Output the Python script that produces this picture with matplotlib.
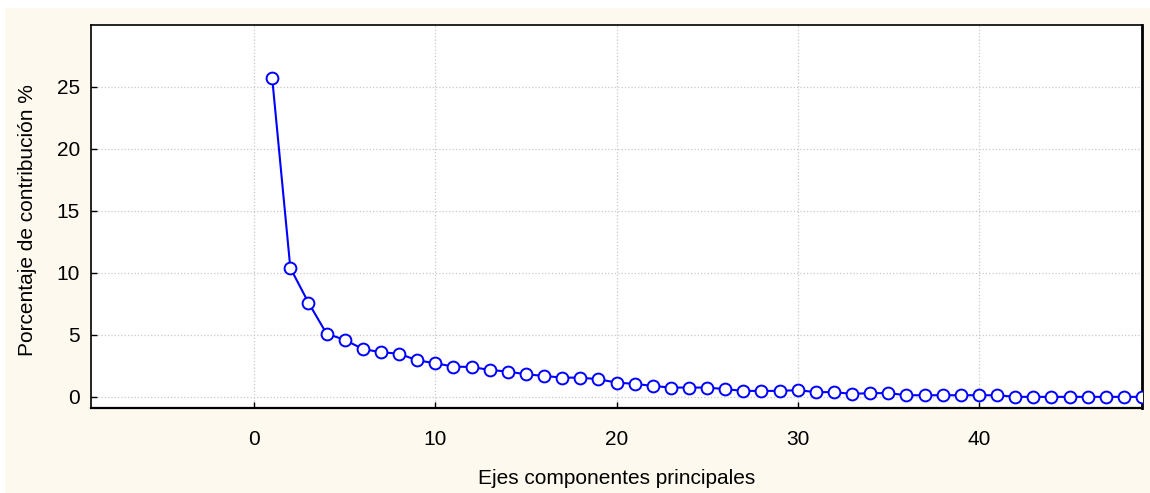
import matplotlib
matplotlib.use('Agg')
import matplotlib.pyplot as plt
from matplotlib.patches import Rectangle

# Principal component contributions (%)
componentes = list(range(1, 50))
contribucion = [25.7, 10.4, 7.6, 5.1, 4.6, 3.86, 3.6, 3.48, 2.95, 2.71,
                2.44, 2.41, 2.17, 2.04, 1.82, 1.69, 1.55, 1.55, 1.42, 1.15,
                1.05, 0.88, 0.75, 0.75, 0.75, 0.62, 0.48, 0.48, 0.48, 0.54,
                0.38, 0.38, 0.24, 0.30, 0.30, 0.13, 0.13, 0.13, 0.13, 0.13,
                0.13, 0.0, 0.0, 0.0, 0.0, 0.0, 0.0, 0.0, 0.0]
xticks = [0, 10, 20, 30, 40]
yticks = [0, 5, 10, 15, 20, 25]

plt.rcParams['font.family'] = ['Liberation Sans', 'DejaVu Sans']

fig = plt.figure(figsize=(11.5, 4.93), dpi=100)
fig.patch.set_facecolor('white')
# cream panel behind the chart
fig.patches.append(Rectangle((5 / 1150, 0), 1, 1 - 8 / 493, transform=fig.transFigure,
                             facecolor='#FEF9EE', edgecolor='none', zorder=-10))

ax = fig.add_axes([91 / 1150, 1 - 408 / 493, (1142 - 91) / 1150, (408 - 25) / 493])
ax.set_facecolor('white')
ax.plot(componentes, contribucion, color='#0000FF', linewidth=1.5, marker='o',
        markersize=8.5, markerfacecolor='white', markeredgecolor='#0000FF',
        markeredgewidth=1.4, clip_on=True, zorder=3)

ax.set_xlim(-9, 49)
ax.set_ylim(-0.9, 30)
ax.set_xticks(xticks)
ax.set_yticks(yticks)
ax.grid(True, color='#C8C8C8', linestyle=':', linewidth=0.9)
ax.tick_params(direction='in', length=4, width=1, labelsize=15)
ax.tick_params(axis='x', pad=16)
ax.tick_params(axis='y', pad=8)
for s in ax.spines.values():
    s.set_linewidth(1.2)
ax.spines['right'].set_linewidth(2)
ax.spines['bottom'].set_linewidth(1.6)

ax.set_xlabel('Ejes componentes principales', fontsize=15)
ax.set_ylabel('Porcentaje de contribución %', fontsize=15)
ax.xaxis.set_label_coords(0.5, -(479 - 408) / 383, transform=ax.transAxes)
ax.yaxis.set_label_coords(-(91 - 28) / 1051, (408 - 220) / 383, transform=ax.transAxes)
ax.xaxis.label.set_va('center')
ax.yaxis.label.set_va('center')

fig.savefig('out.png', dpi=100, facecolor=fig.get_facecolor())
